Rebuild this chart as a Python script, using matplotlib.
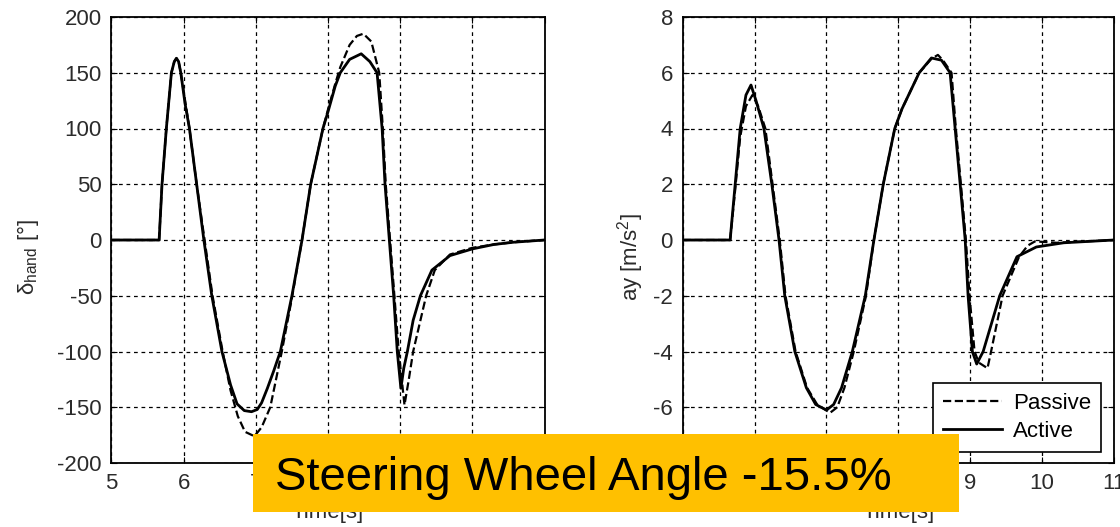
import matplotlib.pyplot as plt
from matplotlib.patches import Rectangle

plt.rcParams["font.family"] = ["Liberation Sans", "DejaVu Sans"]
plt.rcParams["mathtext.fontset"] = "custom"
plt.rcParams["mathtext.rm"] = "Liberation Sans"
plt.rcParams["mathtext.it"] = "Liberation Sans:italic"
plt.rcParams["mathtext.default"] = "regular"
plt.rcParams["axes.unicode_minus"] = False

# steering wheel angle [deg]
t_hand_active = [5.0, 5.66, 5.70, 5.76, 5.83, 5.87, 5.90, 5.93, 5.96, 6.02, 6.08, 6.18, 6.28,
                 6.39, 6.53, 6.65, 6.74, 6.84, 6.94, 7.02, 7.08, 7.16, 7.25, 7.34, 7.50, 7.64,
                 7.76, 7.93, 8.00, 8.10, 8.17, 8.30, 8.46, 8.58, 8.68, 8.75, 8.79, 8.85,
                 8.91, 8.96, 9.01, 9.05, 9.10, 9.18, 9.28, 9.44, 9.69, 10.0, 10.3, 10.57, 11.0]
hand_active = [0, 0, 50, 100, 150, 160, 163, 160, 150, 122, 100, 50, 0,
               -50, -100, -130, -147, -153, -154, -152, -146, -133, -117, -100, -50, 0,
               50, 100, 115, 138, 150, 162, 167, 160, 150, 100, 50, 0,
               -50, -100, -133, -115, -100, -72, -50, -27, -14, -8, -4, -2, 0]

t_hand_passive = [5.0, 5.66, 5.70, 5.76, 5.83, 5.87, 5.90, 5.93, 5.96, 6.08, 6.18, 6.29,
                  6.40, 6.54, 6.65, 6.75, 6.85, 6.98, 7.08, 7.20, 7.36, 7.50, 7.64, 7.76,
                  7.93, 8.00, 8.10, 8.17, 8.30, 8.40, 8.49, 8.60, 8.71, 8.76, 8.80, 8.86,
                  8.92, 8.98, 9.06, 9.12, 9.18, 9.36, 9.48, 9.69, 10.0, 10.3, 10.57, 11.0]
hand_passive = [0, 0, 50, 100, 150, 160, 163, 160, 150, 100, 50, 0,
                -50, -100, -135, -158, -172, -176, -168, -150, -100, -52, 0, 50,
                100, 117, 140, 155, 175, 183, 185, 178, 150, 100, 50, 0,
                -50, -100, -148, -125, -100, -50, -27, -13, -7, -4, -2, 0]

# lateral acceleration [m/s^2]
t_ay_active = [5.0, 5.66, 5.73, 5.80, 5.88, 5.95, 6.02, 6.13, 6.24, 6.34, 6.42, 6.56, 6.72,
               6.85, 7.00, 7.10, 7.21, 7.36, 7.54, 7.66, 7.79, 7.95, 8.05, 8.29, 8.46,
               8.60, 8.72, 8.79, 8.86, 8.93, 8.97, 9.03, 9.09, 9.18, 9.41, 9.65, 9.92,
               10.3, 11.0]
ay_active = [0, 0, 2, 4, 5.2, 5.56, 5.0, 4, 2, 0, -2, -4, -5.3,
             -5.9, -6.1, -5.9, -5.3, -4, -2, 0, 2, 4, 4.7, 6, 6.53,
             6.45, 6.0, 4, 2, 0, -2, -4, -4.45, -4, -2, -0.6, -0.25,
             -0.1, 0]

t_ay_passive = [5.0, 5.66, 5.73, 5.80, 5.88, 5.97, 6.05, 6.15, 6.25, 6.35, 6.43, 6.57, 6.73,
                6.87, 7.05, 7.15, 7.25, 7.38, 7.55, 7.66, 7.79, 7.95, 8.05, 8.29, 8.46,
                8.55, 8.62, 8.74, 8.80, 8.87, 8.94, 8.99, 9.06, 9.12, 9.24, 9.29, 9.45,
                9.68, 9.80, 9.90, 10.2, 11.0]
ay_passive = [0, 0, 1.8, 3.7, 4.8, 5.2, 4.8, 4, 2, 0, -2, -4, -5.3,
              -5.9, -6.2, -6.0, -5.3, -4, -2, 0, 2, 4, 4.7, 6, 6.5,
              6.64, 6.45, 6.0, 4, 2, 0, -2, -4, -4.4, -4.6, -4, -2,
              -0.6, -0.2, -0.05, -0.1, 0]

W, H = 1120, 527
fig = plt.figure(figsize=(W / 100, H / 100), dpi=100)
ax1 = fig.add_axes([111.5 / W, (H - 463) / H, 433 / W, 446 / H])
ax2 = fig.add_axes([682.7 / W, (H - 463) / H, 431.3 / W, 446 / H])


def style_axes(ax, ylim, yticks):
    ax.set_xlim(5, 11)
    ax.set_ylim(*ylim)
    ax.set_xticks(range(5, 12))
    ax.set_yticks(yticks)
    ax.grid(True, color="black", linestyle=(0, (3, 3)), linewidth=0.9)
    ax.tick_params(direction="in", top=True, right=True, length=4,
                   labelsize=16, labelcolor="#2b2b2b", pad=7)
    for spine in ax.spines.values():
        spine.set_linewidth(1.3)
    ax.set_xlabel("Time[s]", fontsize=16, color="#2b2b2b", labelpad=6)


ax1.plot(t_hand_passive, hand_passive, "k--", lw=1.6)
ax1.plot(t_hand_active, hand_active, "k-", lw=2.0)
style_axes(ax1, (-200, 200), range(-200, 201, 50))
ax1.set_ylabel(r"$\delta_{hand}$ [°]", fontsize=16, color="#2b2b2b")
ax1.yaxis.set_label_coords(-0.163, 0.462)

p_line, = ax2.plot(t_ay_passive, ay_passive, "k--", lw=1.6, label="Passive")
a_line, = ax2.plot(t_ay_active, ay_active, "k-", lw=2.0, label="Active")
style_axes(ax2, (-8, 8), range(-8, 9, 2))
ax2.set_ylabel(r"ay [m/s$^2$]", fontsize=16, color="#2b2b2b")
ax2.yaxis.set_label_coords(-0.085, 0.462)

leg = ax2.legend(handles=[p_line, a_line], loc="lower right", bbox_to_anchor=(0.970, 0.025),
                 borderaxespad=0, fancybox=False, framealpha=1, edgecolor="black",
                 fontsize=16, handlelength=2.65, handletextpad=0.5, labelspacing=0.3,
                 borderpad=0.45)
leg.get_frame().set_linewidth(1.2)

# highlight banner
fig.add_artist(Rectangle((253 / W, (H - 512) / H), (959 - 253) / W, 78 / H,
                         transform=fig.transFigure, facecolor="#FFC000",
                         edgecolor="none", zorder=5))
fig.text(275 / W, (H - 490) / H, "Steering Wheel Angle -15.5%", fontsize=34,
         ha="left", va="baseline", color="black", zorder=6)

fig.savefig("out.png", dpi=100)
